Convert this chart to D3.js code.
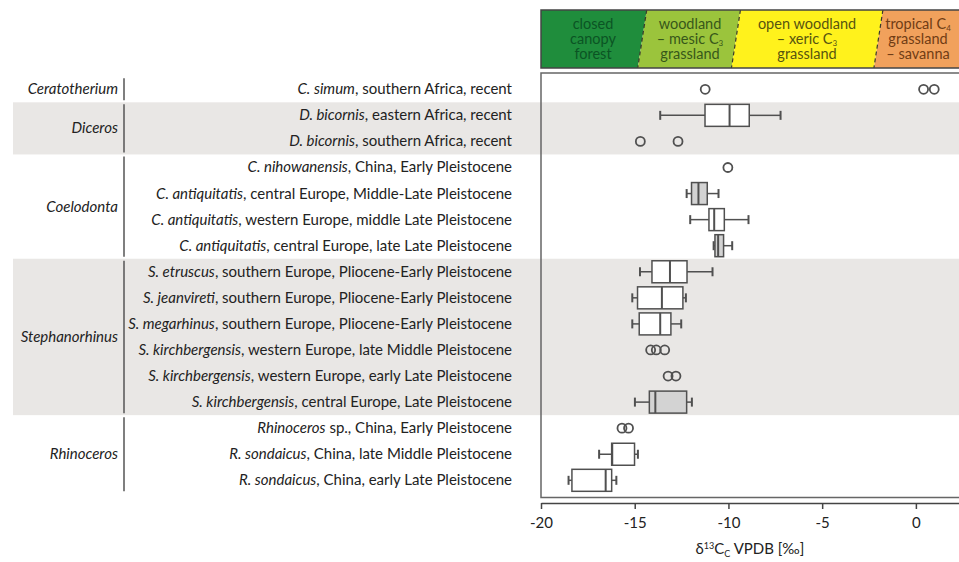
<!DOCTYPE html>
<html>
<head>
<meta charset="utf-8">
<script src="https://cdn.jsdelivr.net/npm/d3@7"></script>
<style>
  body { margin: 0; background: #fff; }
  svg { display: block; font-family: Lato, "Open Sans", sans-serif; }
</style>
</head>
<body>
<div id="chart"></div>
<script>
// genera and how many rows each one spans
var genera = ['Ceratotherium', 'Diceros', 'Coelodonta', 'Stephanorhinus', 'Rhinoceros'];
var genusRows = [1, 2, 4, 6, 3];
var shadedGenera = ['Diceros', 'Stephanorhinus'];

var species = ['C. simum', 'D. bicornis', 'D. bicornis', 'C. nihowanensis', 'C. antiquitatis',
  'C. antiquitatis', 'C. antiquitatis', 'S. etruscus', 'S. jeanvireti', 'S. megarhinus',
  'S. kirchbergensis', 'S. kirchbergensis', 'S. kirchbergensis', 'Rhinoceros', 'R. sondaicus', 'R. sondaicus'];
var details = [', southern Africa, recent', ', eastern Africa, recent', ', southern Africa, recent',
  ', China, Early Pleistocene', ', central Europe, Middle-Late Pleistocene',
  ', western Europe, middle Late Pleistocene', ', central Europe, late Late Pleistocene',
  ', southern Europe, Pliocene-Early Pleistocene', ', southern Europe, Pliocene-Early Pleistocene',
  ', southern Europe, Pliocene-Early Pleistocene', ', western Europe, late Middle Pleistocene',
  ', western Europe, early Late Pleistocene', ', central Europe, Late Pleistocene',
  ' sp., China, Early Pleistocene', ', China, late Middle Pleistocene', ', China, early Late Pleistocene'];

// box statistics (null = only single points)
var whiskerLow = [null, -13.64, null, null, -12.23, -12.04, -10.79, -14.72, -15.13, -15.13, null, null, -14.99, null, -16.90, -18.53];
var q1 = [null, -11.25, null, null, -11.97, -11.04, -10.72, -14.08, -14.85, -14.76, null, null, -14.22, null, -16.23, -18.35];
var median = [null, -9.94, null, null, -11.60, -10.76, -10.55, -13.12, -13.55, -13.64, null, null, -13.90, null, -16.20, -16.55];
var q3 = [null, -8.89, null, null, -11.13, -10.22, -10.26, -12.21, -12.43, -13.07, null, null, -12.23, null, -15.01, -16.23];
var whiskerHigh = [null, -7.22, null, null, -10.53, -8.93, -9.80, -10.85, -12.27, -12.52, null, null, -11.95, null, -14.83, -15.98];
var greyBox = [false, false, false, false, true, false, true, false, false, false, false, false, true, false, false, false];
var outliers = [[-11.24, 0.41, 0.98], [], [-14.70, -12.69], [-10.03], [], [], [], [], [], [],
  [-14.15, -13.85, -13.40], [-13.22, -12.80], [], [-15.68, -15.33], [], []];

// habitat zones along the top
var zoneBounds = [-20, -14.6, -9.6, -2.0, 2.3];
var zoneColors = ['#1f8d3c', '#9bc43c', '#fff21c', '#f1a15c'];
var zoneTextColors = ['#0b5424', '#37571a', '#575410', '#703c14'];
var zoneLines = [
  ['closed', 'canopy', 'forest'],
  ['woodland', '– mesic C_3', 'grassland'],
  ['open woodland', '– xeric C_3', 'grassland'],
  ['tropical C_4', 'grassland', '– savanna']
];
var zoneCentres = [593, 690, 807, 918];

var xTicks = [-20, -15, -10, -5, 0];

var W = 959, H = 562;
var plotL = 541, plotR = 959, plotT = 73, plotB = 497.5;
var headT = 10, headB = 68;
var labelR = 512, genusR = 118, sepX = 124, shadeL = 13;
var ink = '#505050';
var fs = 15;

var svg = d3.select('#chart').append('svg')
  .attr('width', W)
  .attr('height', H);

var x = d3.scaleLinear().domain([-20, 2.3]).range([plotL, plotR]);
var y = d3.scaleBand().domain(d3.range(species.length)).range([76.25, 493.35]);

// genus row ranges
var genusStart = [];
var acc = 0;
genusRows.forEach(function(n) { genusStart.push(acc); acc += n; });

/* shaded bands */
genera.forEach(function(g, i) {
  if (shadedGenera.indexOf(g) < 0) return;
  var top = y(genusStart[i]);
  var bot = y(genusStart[i] + genusRows[i] - 1) + y.bandwidth();
  svg.append('rect')
    .attr('x', shadeL)
    .attr('y', top)
    .attr('width', W - shadeL)
    .attr('height', bot - top)
    .style('fill', '#e9e7e5');
});

/* genus labels and separators */
genera.forEach(function(g, i) {
  var top = y(genusStart[i]);
  var bot = y(genusStart[i] + genusRows[i] - 1) + y.bandwidth();
  svg.append('text')
    .attr('x', genusR)
    .attr('y', (top + bot) / 2 + 5)
    .attr('text-anchor', 'end')
    .attr('font-size', fs)
    .style('font-style', 'italic')
    .style('fill', '#222')
    .text(g);
  svg.append('line')
    .attr('x1', sepX).attr('x2', sepX)
    .attr('y1', top + 2).attr('y2', bot - 2)
    .style('stroke', '#555')
    .style('stroke-width', 1.5);
});

/* row labels */
species.forEach(function(s, i) {
  var t = svg.append('text')
    .attr('x', labelR)
    .attr('y', y(i) + y.bandwidth() / 2 + 5)
    .attr('text-anchor', 'end')
    .attr('font-size', fs)
    .style('fill', '#222');
  t.append('tspan').style('font-style', 'italic').text(s);
  t.append('tspan').text(details[i]);
});

/* header zones */
var header = svg.append('g');
var slant = 4.5;
zoneBounds.slice(0, -1).forEach(function(b, i) {
  var l = x(b), r = x(zoneBounds[i + 1]);
  var lt = i === 0 ? l : l + slant, lb = i === 0 ? l : l - slant;
  var rt = i === zoneColors.length - 1 ? r : r + slant, rb = i === zoneColors.length - 1 ? r : r - slant;
  header.append('path')
    .attr('d', 'M' + lt + ',' + headT + 'L' + rt + ',' + headT + 'L' + rb + ',' + headB + 'L' + lb + ',' + headB + 'Z')
    .style('fill', zoneColors[i]);

  // one text element per zone, one tspan row per line
  var t = header.append('text')
    .attr('x', zoneCentres[i])
    .attr('y', headT + 19)
    .attr('text-anchor', 'middle')
    .attr('font-size', 14.5)
    .style('fill', zoneTextColors[i]);
  zoneLines[i].forEach(function(line, j) {
    var parts = line.split('_');
    var back = 0;
    t.append('tspan')
      .attr('x', zoneCentres[i])
      .attr('y', headT + 19 + j * 15)
      .text(parts[0]);
    if (parts.length > 1) {
      t.append('tspan').attr('font-size', 8).attr('dy', 2).text(parts[1]);
    }
  });
});
zoneBounds.slice(1, -1).forEach(function(b) {
  header.append('line')
    .attr('x1', x(b) + slant).attr('y1', headT)
    .attr('x2', x(b) - slant).attr('y2', headB)
    .style('stroke', '#3a3a2a')
    .style('stroke-width', 1.2)
    .style('stroke-dasharray', '4,3');
});
header.append('rect')
  .attr('x', plotL).attr('y', headT)
  .attr('width', plotR - plotL + 2).attr('height', headB - headT)
  .style('fill', 'none')
  .style('stroke', '#444')
  .style('stroke-width', 1.5);

/* plot frame */
svg.append('path')
  .attr('d', 'M' + (plotR + 2) + ',' + plotT + 'H' + plotL + 'V' + plotB + 'H' + (plotR + 2))
  .style('fill', 'none')
  .style('stroke', '#666')
  .style('stroke-width', 1.5);

/* boxes */
var boxH = 22, capH = 9, r = 4.5;
var marks = svg.append('g')
  .style('stroke', ink)
  .style('stroke-width', 1.5);

species.forEach(function(s, i) {
  var cy = y(i) + y.bandwidth() / 2;
  if (whiskerLow[i] !== null) {
    marks.append('line')
      .attr('x1', x(whiskerLow[i])).attr('x2', x(q1[i]))
      .attr('y1', cy).attr('y2', cy);
    marks.append('line')
      .attr('x1', x(q3[i])).attr('x2', x(whiskerHigh[i]))
      .attr('y1', cy).attr('y2', cy);
    [whiskerLow[i], whiskerHigh[i]].forEach(function(v) {
      marks.append('line')
        .attr('x1', x(v)).attr('x2', x(v))
        .attr('y1', cy - capH / 2).attr('y2', cy + capH / 2)
        .style('stroke-width', 2);
    });
    marks.append('rect')
      .attr('x', x(q1[i]))
      .attr('y', cy - boxH / 2)
      .attr('width', x(q3[i]) - x(q1[i]))
      .attr('height', boxH)
      .style('fill', greyBox[i] ? '#d3d3d3' : '#fff');
    marks.append('line')
      .attr('x1', x(median[i])).attr('x2', x(median[i]))
      .attr('y1', cy - boxH / 2).attr('y2', cy + boxH / 2)
      .style('stroke-width', 2);
  }
  outliers[i].forEach(function(v) {
    marks.append('circle')
      .attr('cx', x(v))
      .attr('cy', cy)
      .attr('r', r)
      .style('fill', 'none')
      .style('stroke-width', 1.8);
  });
});

/* x axis */
var axisY = 503;
var axis = svg.append('g')
  .attr('transform', 'translate(0,' + axisY + ')')
  .call(d3.axisBottom(x).tickValues(xTicks).tickSize(6).tickSizeOuter(0).tickFormat(function(d) { return String(d); }));
axis.select('.domain').style('stroke', '#444').style('stroke-width', 1.5);
axis.selectAll('.tick line').style('stroke', '#444').style('stroke-width', 1.5);
axis.selectAll('.tick text')
  .attr('font-family', 'Lato, "Open Sans", sans-serif')
  .attr('font-size', fs)
  .attr('dy', '1.05em')
  .style('fill', '#222');

var title = svg.append('text')
  .attr('x', (plotL + plotR) / 2)
  .attr('y', 554)
  .attr('text-anchor', 'middle')
  .attr('font-size', fs)
  .style('fill', '#222');
title.append('tspan').text('δ');
title.append('tspan').attr('font-size', 9).attr('dy', -5).text('13');
title.append('tspan').attr('dy', 5).text('C');
title.append('tspan').attr('font-size', 9).attr('dy', 3).text('C');
title.append('tspan').attr('dy', -3).text(' VPDB [‰]');
</script>
</body>
</html>
